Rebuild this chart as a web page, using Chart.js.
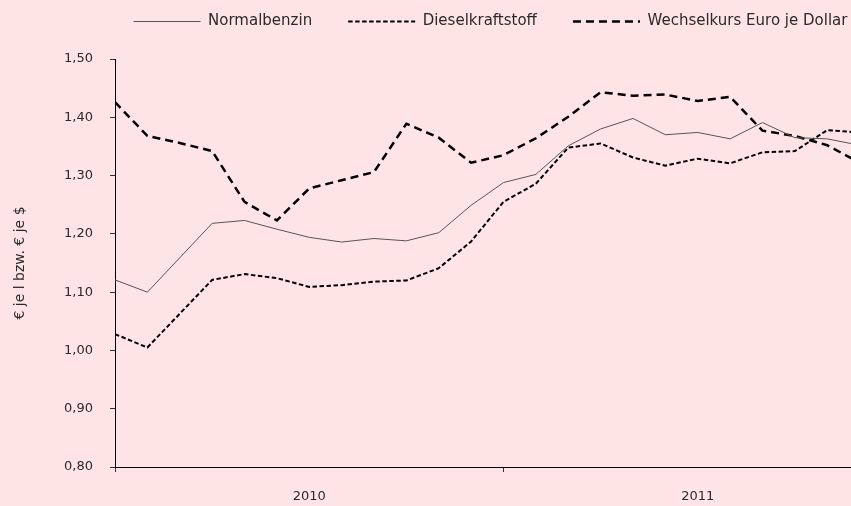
<!DOCTYPE html>
<html><head><meta charset="utf-8">
<script src="https://cdn.jsdelivr.net/npm/chart.js@4"></script>
<style>
html,body{margin:0;padding:0;background:#FFE4E5;overflow:hidden;width:851px;height:506px}
#wrap{width:981px;height:506px;position:relative}
</style></head><body>
<div id="wrap"><canvas id="c" width="981" height="506"></canvas></div>
<script>
// Categories: monthly values, January 2010 – December 2011
const months = ['Jan 2010','Feb 2010','Mär 2010','Apr 2010','Mai 2010','Jun 2010','Jul 2010','Aug 2010','Sep 2010','Okt 2010','Nov 2010','Dez 2010',
                'Jan 2011','Feb 2011','Mär 2011','Apr 2011','Mai 2011','Jun 2011','Jul 2011','Aug 2011','Sep 2011','Okt 2011','Nov 2011','Dez 2011'];
const years = ['2010', '2011'];
const seriesNames = ['Normalbenzin', 'Dieselkraftstoff', 'Wechselkurs Euro je Dollar'];
const normalbenzin = [1.121, 1.100, 1.159, 1.218, 1.223, 1.208, 1.194, 1.186, 1.192, 1.188, 1.202, 1.249,
                      1.288, 1.302, 1.351, 1.380, 1.398, 1.370, 1.374, 1.363, 1.391, 1.365, 1.363, 1.352];
const diesel = [1.028, 1.005, 1.063, 1.121, 1.131, 1.124, 1.109, 1.112, 1.118, 1.120, 1.141, 1.187,
                1.255, 1.286, 1.348, 1.355, 1.331, 1.317, 1.329, 1.321, 1.340, 1.342, 1.378, 1.374];
const wechselkurs = [1.426, 1.368, 1.356, 1.342, 1.255, 1.223, 1.278, 1.292, 1.306, 1.389, 1.365, 1.322,
                     1.335, 1.364, 1.401, 1.443, 1.437, 1.439, 1.428, 1.435, 1.377, 1.368, 1.352, 1.322];
const yTickLabels = ['0,80', '0,90', '1,00', '1,10', '1,20', '1,30', '1,40', '1,50'];
const yTitle = '€ je l bzw. € je $';

const FONT = 'DejaVu Sans';
const TXT = '#2a2a2a';
const toPts = arr => arr.map((v, i) => ({ x: i, y: v }));

const legendShift = {
  id: 'legendShift',
  afterLayout(chart) {
    const l = chart.legend;
    const h = l.height;
    l.top = -22;
    l.bottom = l.top + h;
  }
};

new Chart(document.getElementById('c'), {
  type: 'line',
  data: {
    datasets: [
      { label: seriesNames[0], data: toPts(normalbenzin), borderColor: '#555555', borderWidth: 1, pointRadius: 0, tension: 0, fill: false },
      { label: seriesNames[1], data: toPts(diesel), borderColor: '#000000', borderWidth: 2, borderDash: [4.5, 2.5], pointRadius: 0, tension: 0, fill: false },
      { label: seriesNames[2], data: toPts(wechselkurs), borderColor: '#000000', borderWidth: 2.5, borderDash: [8, 5], pointRadius: 0, tension: 0, fill: false }
    ]
  },
  options: {
    responsive: false,
    animation: false,
    layout: { padding: { top: -2, left: 0, right: 0, bottom: 0 } },
    plugins: {
      tooltip: { enabled: false },
      legend: {
        position: 'top',
        align: 'center',
        labels: {
          usePointStyle: true,
          pointStyleWidth: 67,
          padding: 36,
          color: TXT,
          font: { family: FONT, size: 15 },
          generateLabels: chart => chart.data.datasets.map((ds, i) => ({
            text: ds.label,
            fillStyle: 'rgba(0,0,0,0)',
            strokeStyle: ds.borderColor,
            lineWidth: ds.borderWidth,
            lineDash: ds.borderDash || [],
            lineCap: 'butt',
            pointStyle: 'line',
            hidden: false,
            datasetIndex: i,
            fontColor: TXT
          }))
        }
      }
    },
    scales: {
      x: {
        type: 'linear',
        min: 0,
        max: 24,
        afterFit: s => { s.height = 39; },
        afterBuildTicks: s => { s.ticks = [0, 6, 12, 18, 24].map(v => ({ value: v })); },
        ticks: {
          autoSkip: false,
          maxRotation: 0,
          padding: 17,
          color: TXT,
          font: { family: FONT, size: 13 },
          callback: v => (v === 6 ? years[0] : v === 18 ? years[1] : '')
        },
        grid: {
          drawOnChartArea: false,
          drawTicks: true,
          tickLength: 5,
          color: ctx => (ctx.tick && ctx.tick.value % 12 === 0 ? '#333333' : 'rgba(0,0,0,0)')
        },
        border: { display: true, color: '#000000', width: 1 }
      },
      y: {
        type: 'linear',
        position: 'left',
        min: 0.8,
        max: 1.5,
        afterFit: s => { s.width = 115; },
        afterBuildTicks: s => { s.ticks = yTickLabels.map((t, i) => ({ value: 0.8 + i * 0.1 })); },
        ticks: {
          padding: 17,
          color: TXT,
          font: { family: FONT, size: 13 },
          callback: (v, i) => yTickLabels[i]
        },
        grid: { drawOnChartArea: false, drawTicks: true, tickLength: 5, color: '#333333' },
        border: { display: true, color: '#000000', width: 1 },
        title: { display: true, text: yTitle, color: TXT, font: { family: FONT, size: 14 }, padding: { top: 12, bottom: 0 } }
      },
      yR: {
        type: 'linear',
        position: 'right',
        display: true,
        afterFit: s => { s.width = 89; },
        grid: { display: false },
        ticks: { display: false },
        border: { display: false }
      }
    }
  },
  plugins: [legendShift]
});
</script>
</body></html>
